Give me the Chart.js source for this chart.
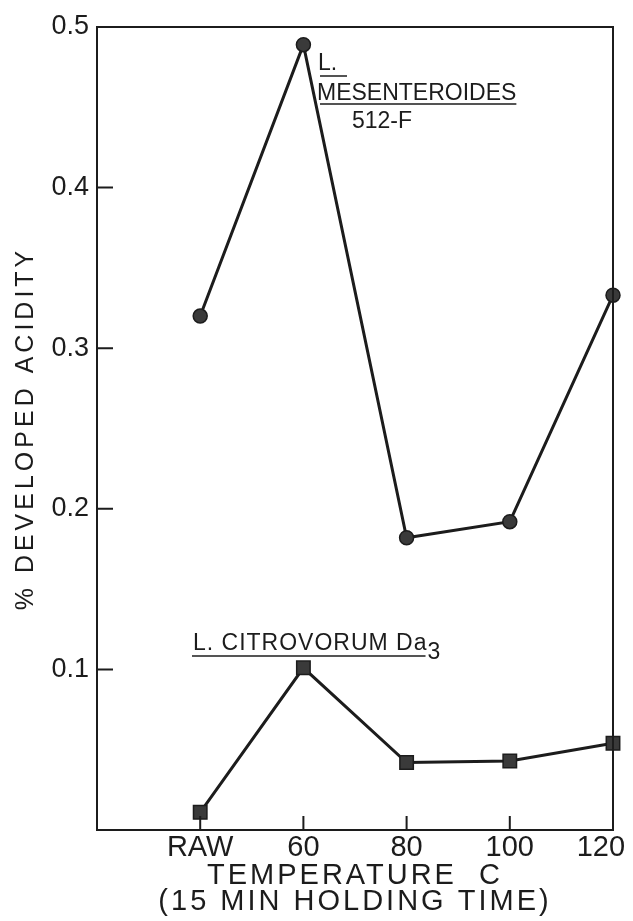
<!DOCTYPE html>
<html>
<head>
<meta charset="utf-8">
<script src="https://cdn.jsdelivr.net/npm/chart.js@4.4.0/dist/chart.umd.min.js"></script>
<style>
  html, body { margin: 0; padding: 0; background: #ffffff; }
  canvas { display: block; }
</style>
</head>
<body>
<canvas id="c" width="633" height="921"></canvas>
<script>
// ---- data ----
const categories = ['RAW', '60', '80', '100', '120'];
const mesenteroides = [0.320, 0.489, 0.182, 0.192, 0.333];
const citrovorum = [0.011, 0.101, 0.042, 0.043, 0.054];
const yTickValues = [0.1, 0.2, 0.3, 0.4, 0.5];
const xTitleLines = ['TEMPERATURE  C', '(15 MIN HOLDING TIME)'];
const yTitle = '% DEVELOPED ACIDITY';
const mesLabelLines = ['L.', 'MESENTEROIDES', '512-F'];
const citLabel = 'L. CITROVORUM Da';
const citLabelSub = '3';

const FONT = "'Liberation Sans', Arial, sans-serif";
const INK = '#1c1c1c';

// leading empty category puts the y axis one step left of RAW
const labels = [''].concat(categories);
const pad = arr => [null].concat(arr);

function spacedTitle(px) {
  return function (scale) {
    if (scale._spacedPatched) return;
    const orig = scale.drawTitle.bind(scale);
    scale.drawTitle = function () {
      const c = this.ctx;
      const prev = c.letterSpacing;
      c.letterSpacing = px;
      orig();
      c.letterSpacing = prev || '0px';
    };
    scale._spacedPatched = true;
  };
}
const patchX = spacedTitle('3px');
const patchY = spacedTitle('4px');

const framePlugin = {
  id: 'frame',
  afterDraw(chart) {
    const {ctx, chartArea: a, scales: {x, y}} = chart;
    ctx.save();
    ctx.strokeStyle = INK;
    ctx.lineWidth = 2;
    ctx.strokeRect(a.left, a.top, a.right - a.left, a.bottom - a.top);
    // inward ticks
    ctx.beginPath();
    yTickValues.forEach(v => {
      if (v >= 0.5) return;
      const py = y.getPixelForValue(v);
      ctx.moveTo(a.left, py);
      ctx.lineTo(a.left + 16, py);
    });
    for (let i = 1; i < labels.length - 1; i++) {
      const px = x.getPixelForValue(i);
      ctx.moveTo(px, a.bottom);
      ctx.lineTo(px, a.bottom - 14);
    }
    ctx.stroke();

    // annotations
    ctx.fillStyle = INK;
    ctx.font = '23px ' + FONT;
    ctx.textBaseline = 'alphabetic';
    ctx.textAlign = 'left';
    ctx.lineWidth = 1.6;
    const mx = a.left + 220;
    ctx.fillText(mesLabelLines[0], mx + 1, 70);
    ctx.fillText(mesLabelLines[1], mx, 100);
    ctx.fillText(mesLabelLines[2], mx + 35, 128);
    ctx.beginPath();
    ctx.moveTo(mx + 3, 76); ctx.lineTo(mx + 30, 76);
    const mw = ctx.measureText(mesLabelLines[1]).width;
    ctx.moveTo(mx + 3, 104); ctx.lineTo(mx + mw, 104);
    ctx.stroke();

    ctx.letterSpacing = '1px';
    const cx = a.left + 96;
    ctx.fillText(citLabel, cx, 650);
    const cw = ctx.measureText(citLabel).width;
    ctx.letterSpacing = '0px';
    ctx.fillText(citLabelSub, cx + cw, 659);
    ctx.beginPath();
    ctx.moveTo(cx - 1, 656); ctx.lineTo(cx + cw - 2, 656);
    ctx.stroke();
    ctx.restore();
  }
};

new Chart(document.getElementById('c'), {
  type: 'line',
  data: {
    labels: labels,
    datasets: [
      {
        label: 'L. MESENTEROIDES 512-F',
        data: pad(mesenteroides),
        borderColor: INK,
        borderWidth: 3,
        pointStyle: 'circle',
        pointRadius: 7,
        pointBackgroundColor: '#3a3a3a',
        pointBorderColor: INK,
        pointBorderWidth: 1.5,
        tension: 0,
        fill: false
      },
      {
        label: 'L. CITROVORUM Da3',
        data: pad(citrovorum),
        borderColor: INK,
        borderWidth: 3,
        pointStyle: 'rect',
        pointRadius: 9.5,
        pointBackgroundColor: '#3a3a3a',
        pointBorderColor: INK,
        pointBorderWidth: 1.5,
        tension: 0,
        fill: false
      }
    ]
  },
  options: {
    responsive: false,
    animation: false,
    devicePixelRatio: 1,
    layout: { padding: { top: 27, right: 20, bottom: 0, left: 0 } },
    plugins: { legend: { display: false }, tooltip: { enabled: false } },
    scales: {
      x: {
        type: 'category',
        offset: false,
        grid: { display: false, drawTicks: false },
        border: { display: false },
        ticks: {
          autoSkip: false, maxRotation: 0, minRotation: 0, padding: 1,
          color: INK, font: { family: FONT, size: 29 },
          callback: function (v, i) {
            const t = this.getLabelForValue(v);
            // last label sits against the right edge, as in the reference
            return i === labels.length - 1 ? t + '\u00a0\u00a0\u00a0' : t;
          }
        },
        title: {
          display: true, text: xTitleLines, color: INK,
          font: { family: FONT, size: 29, lineHeight: 26 / 29 },
          padding: { top: 0, bottom: 6 }
        },
        afterFit(s) { s.height = 91; s.paddingLeft = 0; s.paddingRight = 0; patchX(s); }
      },
      y: {
        min: 0, max: 0.5,
        grid: { display: false, drawTicks: false },
        border: { display: false },
        ticks: {
          stepSize: 0.1, padding: 8, color: INK,
          font: { family: FONT, size: 27 },
          callback: v => (Math.abs(v) < 1e-9 ? '' : Number(v).toFixed(1))
        },
        title: {
          display: true, text: yTitle, color: INK,
          font: { family: FONT, size: 25 },
          padding: { top: 11, bottom: 0 }
        },
        afterFit(s) { s.width = 97; s.paddingTop = 0; s.paddingBottom = 0; patchY(s); }
      }
    }
  },
  plugins: [framePlugin]
});
</script>
</body>
</html>
